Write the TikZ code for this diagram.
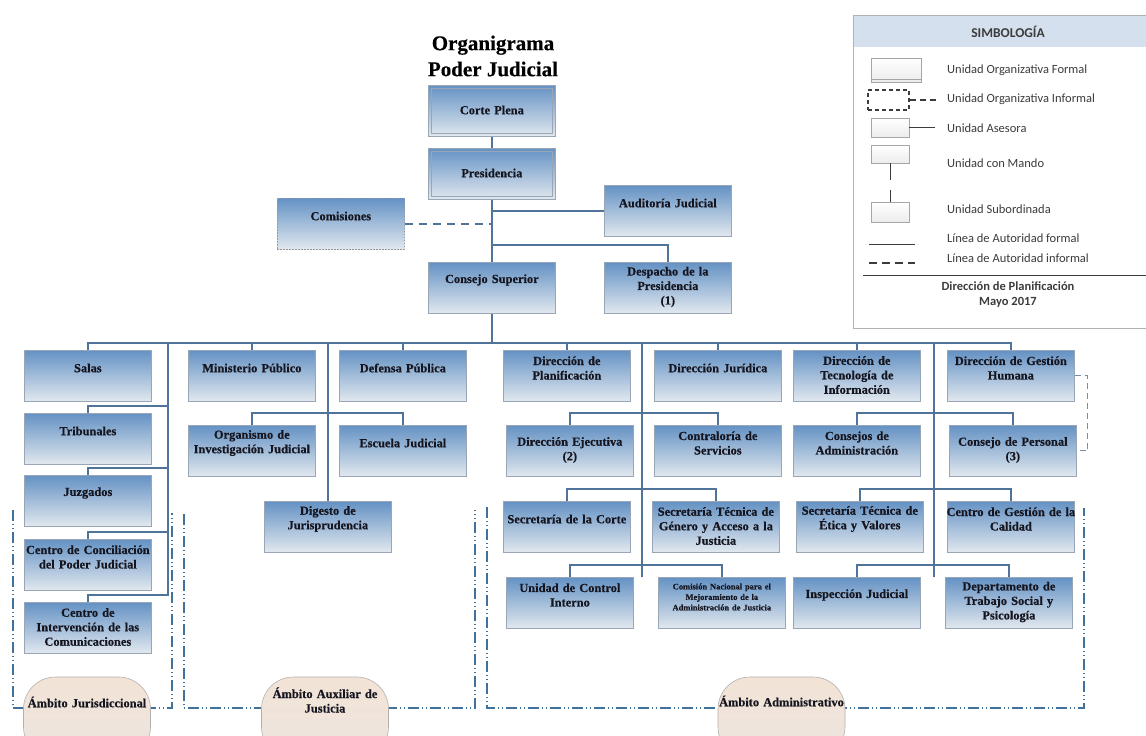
\documentclass[tikz,border=0pt]{standalone}
\usepackage{fontspec}
\setmainfont{Liberation Serif}[BoldFeatures={FakeBold=0.4}]
\setsansfont{Carlito}
\usetikzlibrary{calc}

\definecolor{cajaarriba}{HTML}{6492C4}
\definecolor{cajaabajo}{HTML}{E2E8EF}
\definecolor{cajaborde}{HTML}{98A6B6}
\definecolor{tinta}{HTML}{15151F}
\definecolor{lineaazul}{HTML}{4F7399}
\definecolor{marcoazul}{HTML}{41729C}
\definecolor{ovalarriba}{HTML}{F3E3D6}
\definecolor{ovalabajo}{HTML}{ECE5E0}
\definecolor{ovalborde}{HTML}{B4B0AD}
\definecolor{simbfondo}{HTML}{D5E0EE}
\definecolor{simbgris}{HTML}{3C3C3C}

\tikzset{
  caja/.style={draw=cajaborde, line width=0.7pt, top color=cajaarriba, bottom color=cajaabajo,
    minimum width=127pt, minimum height=51pt, inner sep=0pt, anchor=north west},
  textocaja/.style={font=\bfseries\fontsize{12.4}{14.5}\selectfont, text=tinta, align=center,
    text width=140pt, inner sep=0pt},
  linea/.style={draw=lineaazul, line width=1.4pt},
  informal/.style={linea, dash pattern=on 8pt off 6pt},
  marco/.style={draw=marcoazul, line width=1.2pt, dash pattern=on 11pt off 3pt on 1pt off 3pt on 1pt off 3pt},
  ambito/.style={draw=ovalborde, line width=0.6pt, top color=ovalarriba, bottom color=ovalabajo,
    rounded corners=32pt, minimum width=127pt, minimum height=82pt},
  muestra/.style={draw=gray!70, line width=0.6pt, top color=white, bottom color=gray!15},
  leyenda/.style={font=\sffamily\fontsize{12.5}{15}\selectfont, text=simbgris, anchor=west, inner sep=0pt}
}

\begin{document}
\begin{tikzpicture}[x=1pt,y=-1pt]
  \useasboundingbox (0,0) rectangle (1146,736);
  \clip (0,0) rectangle (1146,736);

% ambitos (dash dot dot frames, open on top)
\draw[marco] (13,510) -- (13,708) -- (172,708) -- (172,513);
\draw[marco] (184,514) -- (184,708) -- (475,708) -- (475,510);
\draw[marco] (487,507) -- (487,708) -- (1084,708) -- (1084,508);

% title
\node[font=\bfseries\fontsize{21}{26}\selectfont, align=center] (tit) at (493,56) {Organigrama\\Poder Judicial};

% units: name / x / y / text offset / text
\foreach \n/\x/\y/\dy/\t in {
    cp/428/85/25/{Corte Plena},
    pres/428/148/25/{Presidencia},
    aud/604/185/18/{Auditoría Judicial},
    cs/428/262/18/{Consejo Superior},
    desp/604/262/25/{Despacho de la\\Presidencia\\(1)},
    salas/24/350/18/{Salas},
    trib/24/413/18/{Tribunales},
    juz/24/475/18/{Juzgados},
    ccon/24/539/18/{Centro de Conciliación\\del Poder Judicial},
    cint/24/602/25/{Centro de\\Intervención de las\\Comunicaciones},
    mp/188/350/18/{Ministerio Público},
    dp/339/350/18/{Defensa Pública},
    oij/188/425/18/{Organismo de\\Investigación Judicial},
    esc/339/425/18/{Escuela Judicial},
    dig/264/501/18/{Digesto de\\Jurisprudencia},
    dpl/503/350/18/{Dirección de\\Planificación},
    dju/654/350/18/{Dirección Jurídica},
    dti/793/350/25/{Dirección de\\Tecnología de\\Información},
    dgh/947/350/18/{Dirección de Gestión\\Humana},
    dej/506/425/25/{Dirección Ejecutiva\\(2)},
    cser/654/425/18/{Contraloría de\\Servicios},
    cadm/793/425/18/{Consejos de\\Administración},
    cper/949/425/25/{Consejo de Personal\\(3)},
    scor/503/501/18/{Secretaría de la Corte},
    sgen/652/501/25/{Secretaría Técnica de\\Género y Acceso a la\\Justicia},
    setv/796/501/18/{Secretaría Técnica de\\Ética y Valores},
    ccal/947/501/18/{Centro de Gestión de la\\Calidad},
    uci/506/577/18/{Unidad de Control\\Interno},
    insp/793/577/18/{Inspección Judicial},
    dts/945/577/25/{Departamento de\\Trabajo Social y\\Psicología}} {
    \node[caja] (\n) at (\x,\y) {};
    \node[textocaja] (\n-t) at ($(\n.north)+(0,\dy)$) {\t};
}

% informal unit and the small-print commission
\node[caja, draw=gray!80, dash pattern=on 1.5pt off 1.5pt] (com) at (277,198) {};
\node[textocaja] (com-t) at ($(com.north)+(0,18)$) {Comisiones};
\node[caja] (cnac) at (658,577) {};
\node[textocaja, font=\bfseries\fontsize{8.5}{10.5}\selectfont] (cnac-t) at ($(cnac.north)+(0,20)$)
  {Comisión Nacional para el\\Mejoramiento de la\\Administración de Justicia};

% double border on the top two
\foreach \n in {cp,pres}
  \draw[draw=cajaborde, line width=0.6pt] ($(\n.north west)+(3,3)$) rectangle ($(\n.south east)+(-3,-3)$);

% top of the chart
\draw[linea] (cp) -- (pres);
\draw[linea] (pres) -- (cs);
\draw[linea] (aud.west) -- (aud.west -| pres.south);
\draw[informal] (com.east) -- (com.east -| pres.south);
\draw[linea] (desp.north) -- ++(0,-17) -| (cs.north);

% main bar
\draw[linea] (cs.south) -- ++(0,30);
\draw[linea] (salas.north) -- ++(0,-7) -| (dgh.north);
\foreach \b in {mp,dp,dpl,dju,dti}
  \draw[linea] (\b.north) -- ++(0,-7);

% left column
\coordinate (tl) at (168,343);
\foreach \b in {trib,juz,ccon,cint}
  \draw[linea] (\b.north) -- ++(0,-7) -| (tl);

% auxiliar column
\draw[linea] (dig.north) -- (dig.north |- tl);
\draw[linea] (oij.north) -- ++(0,-12) -| (esc.north);

% administrativo columns
\coordinate (tr1) at (642,343);
\coordinate (tr2) at (934,343);
\draw[linea] (tr1) -- (tr1 |- uci.north) -- ++(0,-12);
\draw[linea] (tr2) -- (tr2 |- insp.north) -- ++(0,-12);
\foreach \a/\b in {dej/cser,scor/sgen,uci/cnac,cadm/cper,setv/ccal,insp/dts}
  \draw[linea] (\a.north) -- ++(0,-12) -| (\b.north);

% informal link
\draw[draw=lineaazul!80, line width=0.8pt, dash pattern=on 6pt off 4pt] (dgh.east) -- ++(13,0) |- (cper.east);

% ovals
\foreach \n/\x in {amb1/87,amb2/325,amb3/781.5}
  \node[ambito] (\n) at (\x,718) {};
\node[textocaja] (amb1-t) at (87,702) {Ámbito Jurisdiccional};
\node[textocaja] (amb2-t) at (325,700) {Ámbito Auxiliar de\\Justicia};
\node[textocaja] (amb3-t) at (781.5,701) {Ámbito Administrativo};

% simbologia
\draw[draw=gray!60, line width=0.8pt, fill=white] (853,15) rectangle (1152,328);
\fill[simbfondo] (854,16) rectangle (1152,47);
\node[font=\sffamily\bfseries\fontsize{13.5}{16}\selectfont, text=simbgris] (simb) at (1008,32) {SIMBOLOGÍA};

\node[muestra, minimum width=50pt, minimum height=24pt] (mf) at (896,70) {};
\draw[draw=gray!70, line width=0.6pt] ($(mf.south west)+(0,-3)$) -- ($(mf.south east)+(0,-3)$);
\node[muestra, draw=simbgris, top color=white, bottom color=white, line width=1.2pt,
  dash pattern=on 4pt off 3pt, minimum width=41pt, minimum height=20pt] (mi) at (888.5,100) {};
\node[muestra, minimum width=38pt, minimum height=19pt] (ma) at (890,127.5) {};
\node[muestra, minimum width=38pt, minimum height=18pt] (mm) at (890,154) {};
\node[muestra, minimum width=38pt, minimum height=20pt] (ms) at (890,212) {};
\draw[draw=simbgris, line width=1.4pt, dash pattern=on 6pt off 4pt] (mi.east) -- ++(28,0);
\draw[draw=simbgris, line width=1pt] (ma.east) -- ++(26,0);
\draw[draw=simbgris, line width=1pt] (mm.south) -- ++(0,17);
\draw[draw=simbgris, line width=1pt] (ms.north) -- ++(0,-12);

\coordinate (lf) at (869,244);
\coordinate (li) at (869,263);
\draw[draw=simbgris, line width=1pt] (lf) -- ++(46,0);
\draw[draw=simbgris, line width=1.6pt, dash pattern=on 8pt off 5pt] (li) -- ++(46,0);
\draw[draw=simbgris, line width=0.9pt] (863,275) -- (1152,275);

\foreach \y/\t in {70/Unidad Organizativa Formal, 99/Unidad Organizativa Informal,
    128/Unidad Asesora, 163/Unidad con Mando, 209/Unidad Subordinada,
    238/Línea de Autoridad formal, 258/Línea de Autoridad informal}
  \node[leyenda] (l\y) at (947,\y) {\t};

\node[font=\sffamily\bfseries\fontsize{12.5}{15}\selectfont, text=simbgris, align=center] (pie) at (1008,295)
  {Dirección de Planificación\\Mayo 2017};

\end{tikzpicture}
\end{document}
